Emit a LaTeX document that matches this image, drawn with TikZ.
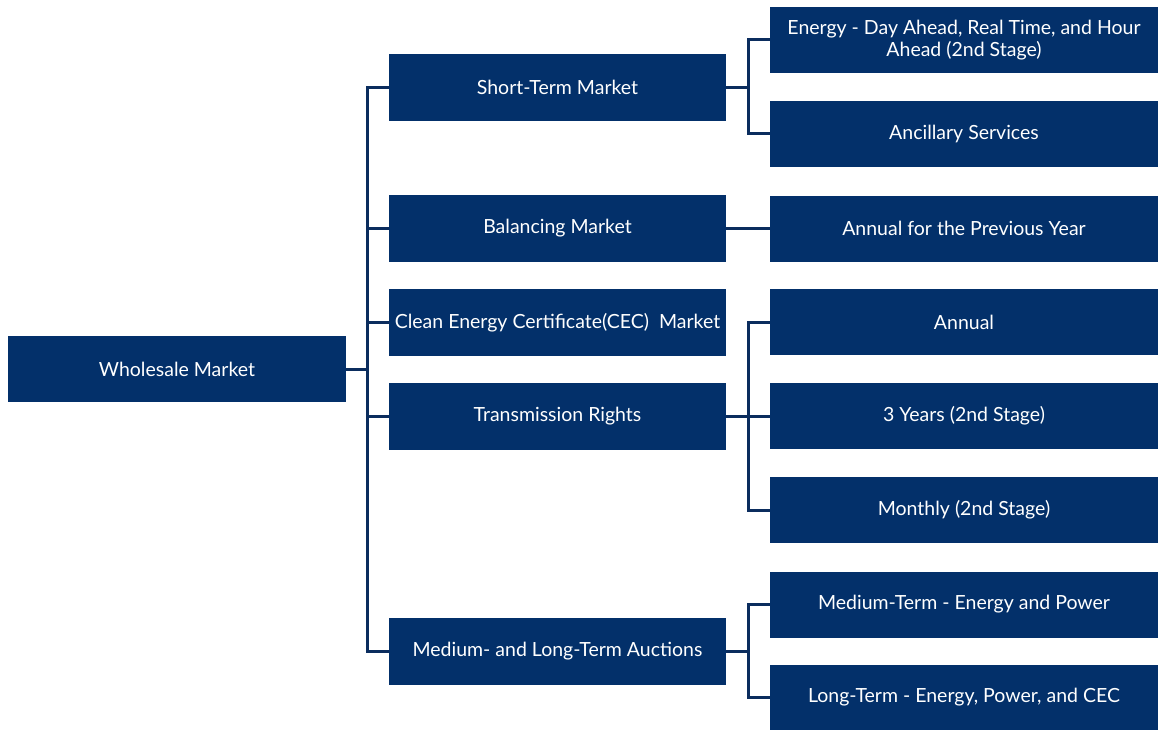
\documentclass[tikz,border=0pt]{standalone}
\usepackage{fontspec}
\setmainfont{Lato}
\definecolor{navy}{HTML}{03306A}
\definecolor{linkc}{HTML}{0B2D5E}
\begin{document}
\begin{tikzpicture}[x=1pt,y=-1pt,
  box/.style={fill=navy, draw=none, text=white, inner sep=0pt, align=center,
    font=\fontsize{19.5}{22}\selectfont},
  rootbox/.style={box, minimum width=338pt, minimum height=66pt},
  midbox/.style={box, minimum width=337pt, minimum height=67pt},
  leafbox/.style={box, minimum width=388pt, minimum height=66pt},
  link/.style={draw=linkc, line width=3pt}]
\useasboundingbox (0,0) rectangle (1158,730);

% root
\node[rootbox] (W) at (177,369) {Wholesale Market};

% second level
\node[midbox] (ST)  at (557.5,87.5)  {Short-Term Market};
\node[midbox] (BM)  at (557.5,228.5) {Balancing Market};
\node[midbox] (CEC) at (557.5,322.5) {Clean Energy Certificate(CEC)\ \ Market};
\node[midbox] (TR)  at (557.5,416)   {Transmission Rights};
\node[midbox] (ML)  at (557.5,651)   {Medium- and Long-Term Auctions};

% third level
\node[leafbox] (E)  at (964,40)    {Energy - Day Ahead, Real Time, and Hour\\Ahead (2nd Stage)};
\node[leafbox] (AS) at (964,134)   {Ancillary Services};
\node[leafbox] (AP) at (964,228.5) {Annual for the Previous Year};
\node[leafbox] (AN) at (964,322)   {Annual};
\node[leafbox] (Y3) at (964,416)   {3 Years (2nd Stage)};
\node[leafbox] (MO) at (964,510)   {Monthly (2nd Stage)};
\node[leafbox] (MT) at (964,604.5) {Medium-Term - Energy and Power};
\node[leafbox] (LT) at (964,697.5) {Long-Term - Energy, Power, and CEC};

% root to second level
\foreach \m in {ST,BM,CEC,TR,ML}
  \draw[link] (W.east) -- ++(21,0) |- (\m.west);

% second to third level
\draw[link] (ST.east) -- ++(22,0) |- (E.west);
\draw[link] (ST.east) -- ++(22,0) |- (AS.west);
\draw[link] (BM.east) -- (AP.west);
\foreach \l in {AN,Y3,MO}
  \draw[link] (TR.east) -- ++(22,0) |- (\l.west);
\draw[link] (ML.east) -- ++(22,0) |- (MT.west);
\draw[link] (ML.east) -- ++(22,0) |- (LT.west);
\end{tikzpicture}
\end{document}
